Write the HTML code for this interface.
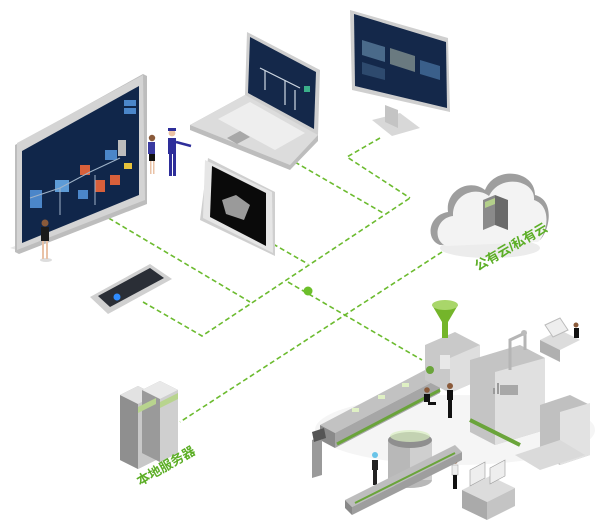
<!DOCTYPE html>
<html><head><meta charset="utf-8"><style>
html,body{margin:0;padding:0;background:#fff;}
svg{display:block}
text{font-family:"Liberation Sans","Noto Sans CJK SC",sans-serif;font-weight:bold}
</style></head><body>
<svg width="600" height="532" viewBox="0 0 600 532" xmlns="http://www.w3.org/2000/svg">
<rect width="600" height="532" fill="#fff"/>
<g stroke="#6cbb2f" stroke-width="1.6" stroke-dasharray="5,3" fill="none">
<path d="M95,210 L250,302"/>
<path d="M143,302 L202,336 L410,198"/>
<path d="M288,158 L383,213"/>
<path d="M380,138 L347,157 L410,198"/>
<path d="M273,244 L308,264"/>
<path d="M288,282 L422,360"/>
<path d="M442,252 L180,422"/>
</g>
<circle cx="308" cy="291" r="4.5" fill="#6cbf2a"/>

<!-- big monitor -->
<polygon points="10,248 17,250 147,200 140,198" fill="#e6e6e6"/>
<polygon points="15,145 143,74 147,76 147,204 19,254 15,252" fill="#bdbdbd"/>
<polygon points="17,143 143,75 145,200 17,250" fill="#d4d4d4"/>
<polygon points="22,151 139,86 139,195 22,243" fill="#10264a"/>
<g>
<rect x="30" y="190" width="12" height="18" fill="#4b86c9"/>
<rect x="55" y="180" width="14" height="12" fill="#5d9bd6"/>
<rect x="80" y="165" width="10" height="10" fill="#d8603b"/>
<rect x="105" y="150" width="12" height="10" fill="#4b86c9"/>
<rect x="118" y="140" width="8" height="16" fill="#bcbcbc"/>
<rect x="95" y="180" width="10" height="12" fill="#d8603b"/>
<rect x="110" y="175" width="10" height="10" fill="#d8603b"/>
<rect x="78" y="190" width="10" height="9" fill="#4b86c9"/>
<rect x="124" y="163" width="8" height="6" fill="#e6c23b"/>
<rect x="124" y="100" width="12" height="6" fill="#4b86c9"/>
<rect x="124" y="108" width="12" height="6" fill="#4b86c9"/>
<path d="M30,198 L60,188 L90,172 L120,158 M60,188 L60,215 M95,175 L95,205" stroke="#9fb3c8" stroke-width="1" fill="none"/>
</g>
<g>
<ellipse cx="46" cy="260" rx="6" ry="2" fill="#ddd"/>
<rect x="41" y="227" width="8" height="14" fill="#1a1a1a"/>
<rect x="42" y="241" width="2" height="18" fill="#e9c2a6"/><rect x="46" y="241" width="2" height="18" fill="#e9c2a6"/>
<circle cx="45" cy="223" r="3.5" fill="#8a5a3a"/>
<rect x="148" y="142" width="7" height="12" fill="#3a3aa0"/>
<rect x="149" y="154" width="6" height="7" fill="#111"/>
<rect x="150" y="161" width="1.5" height="13" fill="#e9c2a6"/><rect x="153" y="161" width="1.5" height="13" fill="#e9c2a6"/>
<circle cx="152" cy="138" r="3.2" fill="#8a5a3a"/>
<rect x="168" y="138" width="8" height="16" fill="#2e2e9a"/>
<rect x="169" y="154" width="3" height="22" fill="#2e2e9a"/><rect x="173" y="154" width="3" height="22" fill="#2e2e9a"/>
<line x1="176" y1="142" x2="191" y2="146" stroke="#2e2e9a" stroke-width="2.5"/>
<circle cx="172" cy="133" r="3.4" fill="#e9c2a6"/>
<rect x="168" y="128" width="8" height="3" fill="#2e2e9a"/>
</g>

<!-- laptop -->
<polygon points="190,125 245,95 318,135 318,141 290,170 190,130" fill="#bdbdbd"/>
<polygon points="190,125 245,95 318,135 290,165" fill="#dcdcdc"/>
<polygon points="218,119 250,102 305,133 275,150" fill="#eeeeee"/>
<polygon points="227,138 240,131 250,137 237,144" fill="#a8a8a8"/>
<polygon points="245,95 247,32 320,70 318,135" fill="#cfcfcf"/>
<polygon points="248,93 250,37 316,72 314,129" fill="#14284a"/>
<path d="M260,68 L300,88 M265,70 L265,90 M285,80 L285,105 M295,90 L295,110" stroke="#cfd8e3" stroke-width="1.2"/>
<rect x="304" y="86" width="6" height="6" fill="#3bb08a"/>

<!-- top right monitor -->
<polygon points="372,120 400,113 420,128 392,136" fill="#d8d8d8"/>
<polygon points="385,105 398,110 398,128 385,122" fill="#c4c4c4"/>
<polygon points="350,10 448,38 450,112 352,90" fill="#cfcfcf"/>
<polygon points="354,14 446,42 447,108 355,86" fill="#14284a"/>
<polygon points="362,40 385,47 385,62 362,55" fill="#4a6a8a"/>
<polygon points="390,48 415,56 415,72 390,64" fill="#6a7a80"/>
<polygon points="420,60 440,66 440,80 420,74" fill="#3a5f8a"/>
<polygon points="362,62 385,69 385,80 362,74" fill="#2e4a6e"/>

<!-- tablet -->
<polygon points="200,220 208,158 275,192 275,256" fill="#cfcfcf"/>
<polygon points="203,218 205,160 272,192 273,253" fill="#e6e6e6"/>
<polygon points="210,217 212,166 266,193 266,246" fill="#0a0a0a"/>
<polygon points="222,200 236,195 250,205 244,220 226,214" fill="#9a9a9a"/>
<!-- phone -->
<polygon points="90,297 150,264 172,279 108,314" fill="#d0d0d0"/>
<polygon points="98,296 150,268 164,278 110,307" fill="#2a2e36"/>
<circle cx="117" cy="297" r="3.5" fill="#2f8cff"/>

<!-- cloud -->
<ellipse cx="490" cy="248" rx="50" ry="10" fill="#ececec"/>
<path d="M440,245 C425,240 428,215 448,212 C445,190 470,178 485,190 C495,165 535,170 535,195 C555,200 550,230 540,240 Z" fill="#9e9e9e"/>
<path d="M446,246 C432,240 436,218 453,216 C452,196 474,185 489,196 C500,173 536,180 534,200 C552,206 548,232 538,242 Z" fill="#f3f3f3"/>
<polygon points="483,200 495,195 495,225 483,230" fill="#8a8a8a"/>
<polygon points="495,195 508,200 508,230 495,225" fill="#6a6a6a"/>
<polygon points="485,202 495,198 495,204 485,208" fill="#b3cf8a"/>
<text x="0" y="0" font-size="13" fill="#5cae26" transform="translate(478,271) rotate(-30)">公有云/私有云</text>

<!-- local server -->
<polygon points="120,395 138,386 156,395 156,460 138,469 120,460" fill="#aaa"/>
<polygon points="120,395 138,404 138,469 120,460" fill="#8f8f8f"/>
<polygon points="138,404 156,395 156,460 138,469" fill="#c8c8c8"/>
<polygon points="120,395 138,386 156,395 138,404" fill="#e2e2e2"/>
<polygon points="142,390 160,381 178,390 178,453 160,462 142,453" fill="#aaa"/>
<polygon points="142,390 160,399 160,462 142,453" fill="#9a9a9a"/>
<polygon points="160,399 178,390 178,453 160,462" fill="#cfcfcf"/>
<polygon points="142,390 160,381 178,390 160,399" fill="#e9e9e9"/>
<polygon points="160,402 178,393 178,399 160,408" fill="#b8d48e"/>
<polygon points="138,407 156,398 156,404 138,413" fill="#b8d48e"/>
<text x="0" y="0" font-size="13" fill="#5cae26" transform="translate(140,486) rotate(-30)">本地服务器</text>

<!-- factory -->
<g>
<ellipse cx="455" cy="430" rx="140" ry="35" fill="#f5f5f5"/>
<polygon points="320,425 425,370 440,378 335,433" fill="#c2c2c2"/>
<polygon points="320,425 335,433 335,448 320,440" fill="#8a8a8a"/>
<polygon points="335,433 440,378 440,393 335,448" fill="#a6a6a6"/>
<path d="M337,444 L440,390" stroke="#6aa43a" stroke-width="3"/>
<g fill="#dff0c4"><rect x="352" y="408" width="7" height="4"/><rect x="378" y="395" width="7" height="4"/><rect x="402" y="383" width="7" height="4"/></g>
<polygon points="425,345 455,332 480,345 480,380 450,393 425,380" fill="#c9c9c9"/>
<polygon points="450,358 480,345 480,380 450,393" fill="#dedede"/>
<rect x="440" y="355" width="10" height="14" fill="#e8e8e8"/>
<path d="M432,305 L458,305 L448,322 L448,338 L442,338 L442,322 Z" fill="#74b52a"/>
<ellipse cx="445" cy="305" rx="13" ry="5" fill="#a9d66a"/>
<circle cx="430" cy="370" r="4" fill="#6aa43a"/>
<polygon points="470,360 520,345 545,358 545,430 495,445 470,432" fill="#c4c4c4"/>
<polygon points="495,372 545,358 545,430 495,445" fill="#e0e0e0"/>
<rect x="500" y="385" width="18" height="10" fill="#a8a8a8"/>
<g fill="#9a9a9a"><rect x="493" y="388" width="2" height="6"/><rect x="497" y="383" width="2" height="11"/></g>
<path d="M510,370 L510,340 L525,333 L525,350" stroke="#b5b5b5" stroke-width="3" fill="none"/>
<circle cx="524" cy="333" r="3" fill="#bbb"/>
<path d="M470,420 L520,445" stroke="#6aa43a" stroke-width="4"/>
<polygon points="540,405 570,395 590,405 590,455 560,465 540,455" fill="#c0c0c0"/>
<polygon points="560,412 590,403 590,455 560,465" fill="#e2e2e2"/>
<polygon points="515,455 560,440 585,455 540,470" fill="#dadada"/>
<polygon points="540,340 560,330 580,340 560,350" fill="#dcdcdc"/>
<polygon points="540,340 560,350 560,362 540,352" fill="#b0b0b0"/>
<polygon points="545,325 560,318 568,330 553,337" fill="#eee" stroke="#bbb"/>
<rect x="574" y="328" width="5" height="10" fill="#111"/>
<circle cx="576" cy="325" r="2.5" fill="#8a5a3a"/>
<rect x="447" y="390" width="6" height="10" fill="#111"/><rect x="448" y="400" width="4" height="18" fill="#111"/><circle cx="450" cy="386" r="3" fill="#8a5a3a"/>
<rect x="424" y="394" width="6" height="8" fill="#111"/><rect x="428" y="402" width="8" height="3" fill="#111"/><circle cx="427" cy="390" r="2.8" fill="#8a5a3a"/>
<rect x="372" y="460" width="6" height="10" fill="#222"/><rect x="373" y="470" width="4" height="15" fill="#222"/><circle cx="375" cy="455" r="3" fill="#6ac4e8"/>
<rect x="452" y="465" width="6" height="10" fill="#eee" stroke="#999" stroke-width=".5"/><rect x="453" y="475" width="4" height="14" fill="#111"/><circle cx="455" cy="461" r="2.8" fill="#8a5a3a"/>
<polygon points="312,440 322,436 322,475 312,478" fill="#9a9a9a"/>
<polygon points="312,432 324,428 326,438 314,442" fill="#555"/>
<rect x="388" y="440" width="44" height="40" fill="#b8b8b8"/>
<ellipse cx="410" cy="480" rx="22" ry="8" fill="#b8b8b8"/>
<rect x="410" y="440" width="22" height="40" fill="#cfcfcf"/>
<ellipse cx="410" cy="440" rx="22" ry="8" fill="#8f8f8f"/>
<ellipse cx="410" cy="436" rx="20" ry="6" fill="#d8eec0" opacity=".7"/>
<polygon points="345,500 455,445 462,452 352,507" fill="#bdbdbd"/>
<polygon points="345,500 352,507 352,515 345,508" fill="#888"/>
<polygon points="352,507 462,452 462,460 352,515" fill="#9e9e9e"/>
<path d="M355,503 L455,453" stroke="#6aa43a" stroke-width="2"/>
<polygon points="462,490 490,476 515,488 487,502" fill="#dcdcdc"/>
<polygon points="462,490 487,502 487,520 462,508" fill="#aaa"/>
<polygon points="487,502 515,488 515,506 487,520" fill="#c4c4c4"/>
<polygon points="470,470 485,462 485,478 470,486" fill="#eee" stroke="#999" stroke-width=".6"/>
<polygon points="490,468 505,460 505,476 490,484" fill="#eee" stroke="#999" stroke-width=".6"/>
</g>
</svg>
</body></html>
